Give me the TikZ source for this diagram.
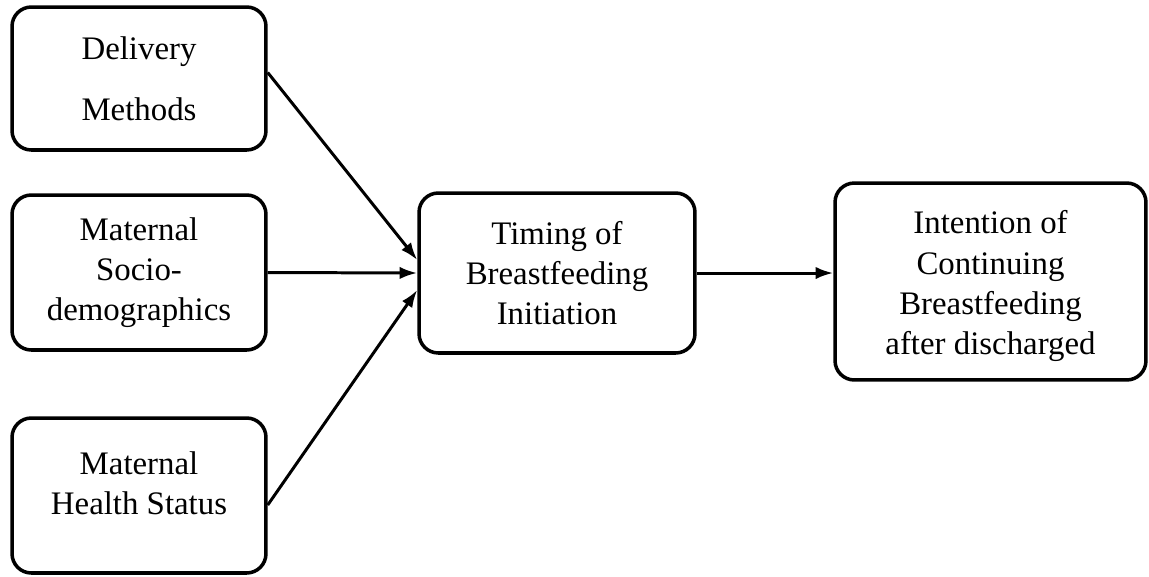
\documentclass[tikz,border=0pt]{standalone}
\usepackage{fontspec}
\setmainfont{Liberation Serif}
\usepackage{tikz}
\usetikzlibrary{arrows.meta,calc}
\tikzset{
  box/.style={draw=black, line width=2pt, rounded corners=11pt, align=center,
    inner sep=0pt, font=\fontsize{18.7}{22.8}\selectfont},
  boxtxt/.style={align=center, inner sep=0pt, font=\fontsize{18.7}{22.8}\selectfont},
  link/.style={-{Latex[length=10pt,width=7pt]}, line width=1.7pt, draw=black}
}
\begin{document}
\begin{tikzpicture}[x=0.02cm, y=-0.02cm]
  \useasboundingbox (0,0) rectangle (1149,576);

  % left column of factors
  \node[box, minimum width=5.08cm, minimum height=2.86cm] (deliv) at (139,78.5)
    {Delivery\\[12pt]Methods};
  \node[box, minimum width=5.08cm, minimum height=3.1cm] (socio) at (139,272.5)
    {Maternal\\Socio-\\demographics};
  \node[box, minimum width=5.08cm, minimum height=3.1cm] (health) at (139,495.5) {};
  \node[boxtxt] (healthtxt) at (139,483) {Maternal\\Health Status};

  % middle and right
  \node[box, minimum width=5.52cm, minimum height=3.2cm] (timing) at (557,273)
    {Timing of\\Breastfeeding\\Initiation};
  \node[box, minimum width=6.22cm, minimum height=3.94cm] (intent) at (990.5,281.5) {};
  \node[boxtxt] (intenttxt) at (990.5,286)
    {Intention of\\Continuing\\Breastfeeding\\after discharged};

  % connectors
  \draw[link] ($(deliv.east)+(0,-6)$) -- ($(timing.west)+(0,-13)$);
  \draw[link] (socio.east) -- (timing.west);
  \draw[link] ($(health.east)+(0,9.5)$) -- ($(timing.west)+(0,17)$);
  \draw[link] (timing.east) -- (intent.west |- timing.east);
\end{tikzpicture}
\end{document}
